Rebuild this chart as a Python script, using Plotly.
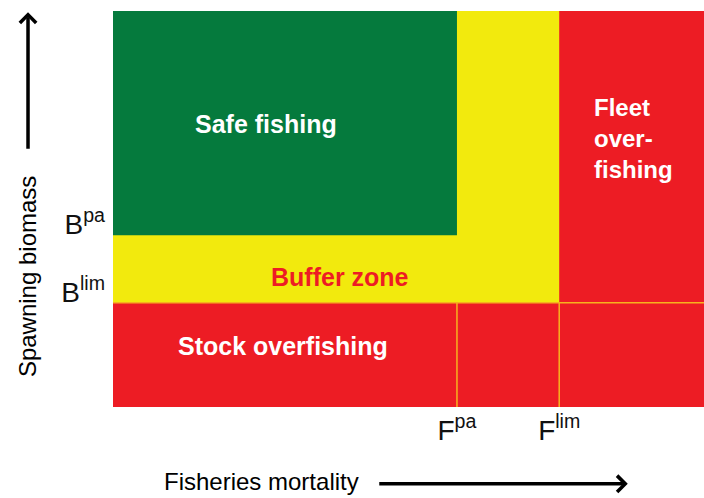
import plotly.graph_objects as go

# reference points (axis units 0..1)
F_PA = 0.582
F_LIM = 0.755
B_LIM = 0.263
B_PA = 0.434

# zones, drawn in this order (later ones on top)
zone_names = ["Buffer zone", "Safe fishing", "Fleet over-fishing", "Stock overfishing"]
zone_x0 = [0, 0, F_LIM, 0]
zone_x1 = [1, F_PA, 1, 1]
zone_y0 = [B_LIM, B_PA, B_LIM, 0]
zone_y1 = [1, 1, 1, B_LIM]
zone_colors = ["#f2ea0d", "#057a3d", "#ed1c24", "#ed1c24"]

x_tickvals = [F_PA, F_LIM]
x_ticktext = ["F<sup>pa</sup>", "F<sup>lim</sup>"]
y_tickvals = [B_LIM, B_PA]
y_ticktext = ["B<sup>lim</sup>", "B<sup>pa</sup>"]

fig = go.Figure()

# colored zones
for x0, x1, y0, y1, c in zip(zone_x0, zone_x1, zone_y0, zone_y1, zone_colors):
    fig.add_shape(type="rect", xref="x", yref="y", x0=x0, x1=x1, y0=y0, y1=y1,
                  fillcolor=c, line=dict(width=0), layer="below")

# thin orange-yellow division lines
line_col = "#f7b21e"
fig.add_shape(type="line", xref="x", yref="y", x0=F_PA, x1=F_PA, y0=0, y1=B_LIM,
              line=dict(color=line_col, width=1.5))
fig.add_shape(type="line", xref="x", yref="y", x0=F_LIM, x1=F_LIM, y0=0, y1=B_LIM,
              line=dict(color=line_col, width=1.5))
fig.add_shape(type="line", xref="x", yref="y", x0=0, x1=1, y0=B_LIM, y1=B_LIM,
              line=dict(color=line_col, width=1.5))

bold = dict(family="Liberation Sans, Arial, sans-serif", size=25, color="white")

fig.add_annotation(x=0.259, y=0.715, text="<b>Safe fishing</b>", showarrow=False, font=bold)
fig.add_annotation(x=0.384, y=0.328, text="<b>Buffer zone</b>", showarrow=False,
                   font=dict(bold, color="#ed1c24"))
fig.add_annotation(x=0.288, y=0.154, text="<b>Stock overfishing</b>", showarrow=False, font=bold)
fig.add_annotation(x=0.810, y=0.677, text="<b>Fleet<br>over-<br>fishing</b>", showarrow=False,
                   xanchor="left", align="left", font=dict(bold, size=24))

reg = dict(family="Liberation Sans, Arial, sans-serif", size=24, color="black")

# axis titles with arrows
fig.add_annotation(xref="paper", yref="paper", x=0.252, y=-0.187, text="Fisheries mortality",
                   showarrow=False, xanchor="center", yanchor="middle", font=reg)
fig.add_annotation(xref="paper", yref="paper", x=-0.1455, y=0.328, text="Spawning biomass",
                   showarrow=False, textangle=-90, xanchor="center", yanchor="middle", font=reg)
fig.add_annotation(xref="paper", yref="paper", x=0.871, y=-0.194, ax=-250, ay=0,
                   axref="pixel", ayref="pixel", text="", showarrow=True,
                   arrowhead=4, arrowwidth=3.5, arrowsize=0.9, arrowcolor="black")
fig.add_annotation(xref="paper", yref="paper", x=-0.1438, y=0.997, ax=0, ay=138,
                   axref="pixel", ayref="pixel", text="", showarrow=True,
                   arrowhead=4, arrowwidth=3.5, arrowsize=0.9, arrowcolor="black")

tick_font = dict(family="Liberation Sans, Arial, sans-serif", size=28, color="#111111")
fig.update_xaxes(range=[0, 1], showgrid=False, zeroline=False, showline=False,
                 tickvals=x_tickvals, ticktext=x_ticktext, ticks="",
                 ticklabelstandoff=4, tickfont=tick_font)
fig.update_yaxes(range=[0, 1], showgrid=False, zeroline=False, showline=False,
                 tickvals=y_tickvals, ticktext=y_ticktext, ticks="",
                 ticklabelstandoff=7, ticklabelshift=-11, tickfont=tick_font)

fig.update_layout(width=704, height=498, margin=dict(l=113, r=0, t=11, b=91),
                  plot_bgcolor="white", paper_bgcolor="white", showlegend=False)

# no page margin so the figure sits at the window's corner
fig.write_html("out.html", config={"displayModeBar": False}, post_script=(
    "document.body.style.margin='0';document.body.style.overflow='hidden';"
    "Plotly.relayout(document.getElementById('{plot_id}'), {width: 704, height: 498});"))
